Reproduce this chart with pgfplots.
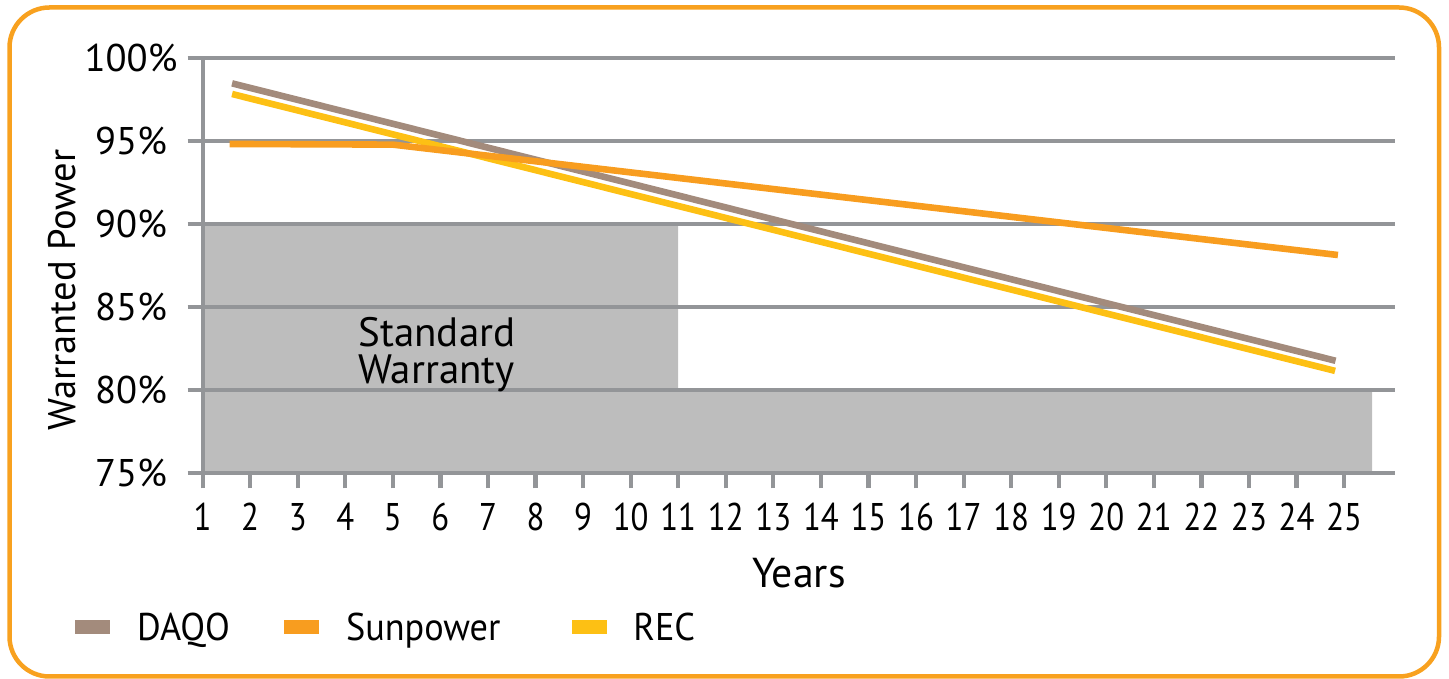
\documentclass[border=0pt]{standalone}
\usepackage{fontspec}
\setmainfont{PT Sans}
\newfontfamily\xtickfont{PT Sans}[FakeStretch=0.85]
\newfontfamily\legfont{PT Sans}[FakeStretch=0.94]
\usepackage{pgfplots}
\pgfplotsset{compat=1.18}
\definecolor{daqo}{HTML}{A38B7C}
\definecolor{sunp}{HTML}{F89D1F}
\definecolor{rec}{HTML}{FDC014}
\definecolor{framecol}{HTML}{F8A11F}
\definecolor{gridgray}{HTML}{939598}
\definecolor{fillgray}{HTML}{BDBDBD}
\begin{document}
\begin{tikzpicture}
\draw[framecol, line width=2.25pt, rounded corners=20pt] (4.75pt,1.25pt) rectangle (719.5pt,335.75pt);
\begin{axis}[
  at={(101.3pt,102.85pt)}, anchor=south west,
  scale only axis, width=596.2pt, height=207.5pt,
  xmin=1, xmax=26.07, ymin=75, ymax=100,
  set layers,
  axis x line*=bottom, axis y line*=left,
  axis line style={-, draw=gridgray, line width=2.1pt},
  xtick={1,...,25},
  ytick={75,80,85,90,95,100},
  yticklabels={75\%,80\%,85\%,90\%,95\%,100\%},
  tick align=outside, major tick length=7.5pt,
  tick style={draw=gridgray, line width=2.1pt},
  ymajorgrids, major grid style={draw=gridgray, line width=2.1pt},
  /pgf/number format/assume math mode=true,
  tick label style={font=\fontsize{19.3}{23}\selectfont, text=black},
  xticklabel style={anchor=north, inner sep=0pt, yshift=-7.35pt, font=\xtickfont\fontsize{19.3}{23}\selectfont},
  yticklabel style={anchor=center, inner sep=0pt, xshift=-28.3pt},
  ylabel={Warranted Power},
  ylabel style={at={(axis description cs:-0.118,0.4417)}, anchor=center, font=\fontsize{19.3}{23}\selectfont},
  xlabel={Years},
  xlabel style={at={(axis description cs:0.5,-0.274)}, anchor=base, font=\fontsize{20.9}{25}\selectfont},
  legend columns=3, legend cell align=left,
  legend style={at={(axis description cs:-0.1070,-0.3704)}, anchor=west, draw=none, fill=none, inner sep=0pt,
    nodes={inner sep=0pt, text depth=0pt}, font=\legfont\fontsize{19.3}{23}\selectfont,
    /tikz/every odd column/.append style={column sep=13.5pt}},
  legend image code/.code={\fill[#1] (0pt,-3.25pt) rectangle (17pt,3.25pt);},
]
\addplot[fill=fillgray, draw=none, on layer=axis background, forget plot] coordinates {
  (1,75) (1,90) (11,90) (11,80) (25.59,80) (25.59,75)};
\addplot[daqo, line width=3.3pt, forget plot] coordinates {(1.62,98.49) (24.82,81.78)};
\addplot[rec, line width=3.3pt, forget plot] coordinates {(1.62,97.85) (24.81,81.17)};
\addplot[sunp, line width=3.3pt, line join=round, forget plot] coordinates {(1.57,94.84) (5.0,94.8) (24.87,88.15)};
\addlegendimage{daqo}
\addlegendentry{\makebox[73.5pt][l]{DAQO}}
\addlegendimage{sunp}
\addlegendentry{\makebox[112.8pt][l]{Sunpower}}
\addlegendimage{rec}
\addlegendentry{REC}
\node[anchor=west, inner sep=0pt, align=left, font=\fontsize{20.5}{18.5}\selectfont] at (axis cs:4.27,82.17) {Standard\\Warranty};
\end{axis}
\pgfresetboundingbox
\useasboundingbox (0,0) rectangle (724.5pt,339.5pt);
\end{tikzpicture}
\end{document}
